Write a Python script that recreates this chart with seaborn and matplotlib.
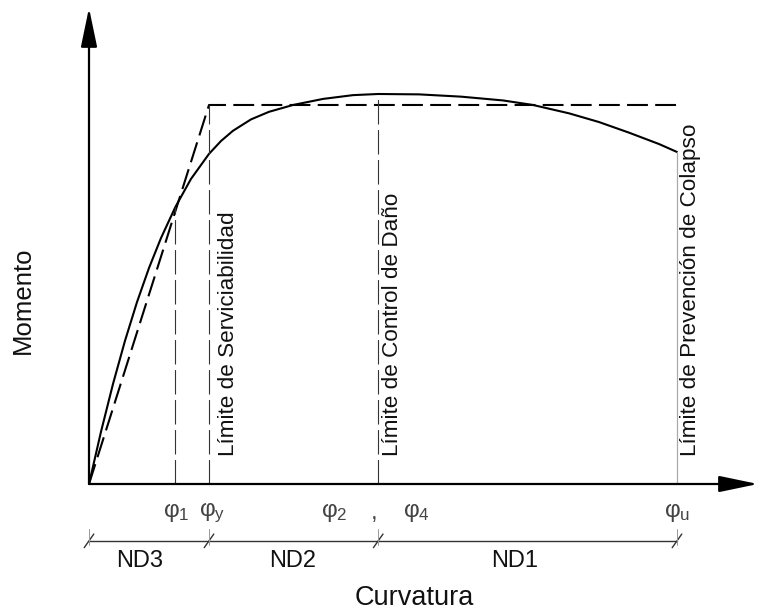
import matplotlib
matplotlib.use("Agg")
import matplotlib.pyplot as plt
import seaborn as sns
import pandas as pd

# Moment-curvature curve (curvature normalised to phi_y, moment to M_y)
curvature = [0, 0.1, 0.2, 0.3, 0.4, 0.5, 0.6, 0.72, 0.85, 1.0, 1.1, 1.2, 1.35, 1.5,
             1.7, 1.95, 2.2, 2.41, 2.75, 3.1, 3.45, 3.7, 4.0, 4.25, 4.5, 4.75, 4.9]
moment = [0, 0.138, 0.264, 0.378, 0.48, 0.57, 0.649, 0.731, 0.805, 0.871, 0.905, 0.932,
          0.962, 0.982, 1.0, 1.016, 1.026, 1.029, 1.028, 1.022, 1.012, 1.0, 0.978, 0.955,
          0.927, 0.897, 0.876]

# Idealised bilinear curve
bilin_x = [0, 1.0, 4.9]
bilin_y = [0, 1.0, 1.0]

# Performance limits
limit_x = [0.72, 1.0, 2.41, 4.9]
limit_top = [0.731, 1.0, 1.029, 0.876]
limit_text = ["Límite de Serviciabilidad", "Límite de Control de Daño",
              "Límite de Prevención de Colapso"]
limit_text_x = [1.16, 2.525, 5.01]

phi_labels = ["$\\mathrm{φ_1}$", "$\\mathrm{φ_y}$", "$\\mathrm{φ_2}$", ",", "$\\mathrm{φ_4}$", "$\\mathrm{φ_u}$"]
phi_label_x = [0.725, 1.03, 2.04, 2.38, 2.73, 4.9]

zones = ["ND3", "ND2", "ND1"]
zone_bounds = [0, 1.0, 2.41, 4.9]
zone_label_x = [0.425, 1.70, 3.55]

sns.set_theme(style="white")
plt.rcParams["font.family"] = ["Liberation Sans", "DejaVu Sans"]
plt.rcParams["mathtext.fontset"] = "custom"
plt.rcParams["mathtext.rm"] = "Liberation Sans"
plt.rcParams["mathtext.it"] = "Liberation Sans"

fig = plt.figure(figsize=(7.58, 6.14), dpi=100)
ax = fig.add_axes([0, 0, 1, 1])
ax.set_xlim(-0.7417, 5.575)
ax.set_ylim(-0.343, 1.277)
ax.axis("off")

# axes with arrows
arrow = dict(arrowstyle="-|>,head_length=1.2,head_width=0.25", lw=1.6, color="black",
             mutation_scale=20, shrinkA=0, shrinkB=0)
ax.annotate("", xy=(5.575, 0), xytext=(0, 0), arrowprops=arrow)
ax.annotate("", xy=(0, 1.256), xytext=(0, 0), arrowprops=arrow)

# curves
df = pd.DataFrame({"phi": curvature, "M": moment})
sns.lineplot(data=df, x="phi", y="M", ax=ax, color="black", lw=1.5, sort=False)
ax.plot(bilin_x, bilin_y, color="black", lw=1.5, dashes=(10, 3.5))

# vertical limit lines
for i, (x, top) in enumerate(zip(limit_x, limit_top)):
    if i == 3:
        ax.plot([x, x], [0, top], color="#aaaaaa", lw=0.9)
    else:
        ax.plot([x, x], [0, top], color="#333333", lw=0.8, dashes=(22, 5))

for txt, x in zip(limit_text, limit_text_x):
    ax.text(x, 0.074, txt, rotation=90, ha="center", va="bottom", fontsize=16.2, color="#111111")

# phi labels
for txt, x in zip(phi_labels, phi_label_x):
    ax.text(x, -0.076, txt, ha="center", va="center", fontsize=17.5, color="#444444")

# dimension line with zones
dim_y = -0.150
ax.plot([zone_bounds[0], zone_bounds[-1]], [dim_y, dim_y], color="#333333", lw=1.0)
for b in zone_bounds:
    ax.plot([b - 0.04, b + 0.04], [dim_y - 0.018, dim_y + 0.018], color="#333333", lw=1.0)
    ax.plot([b, b], [dim_y - 0.01, dim_y + 0.03], color="#999999", lw=0.7)
for z, x in zip(zones, zone_label_x):
    ax.text(x, -0.203, z, ha="center", va="center", fontsize=17, color="#111111")

ax.text(2.71, -0.300, "Curvatura", ha="center", va="center", fontsize=19.5, color="#111111")
ax.text(-0.555, 0.485, "Momento", rotation=90, ha="center", va="center", fontsize=18.5, color="#111111")

fig.savefig("out.png", dpi=100)
